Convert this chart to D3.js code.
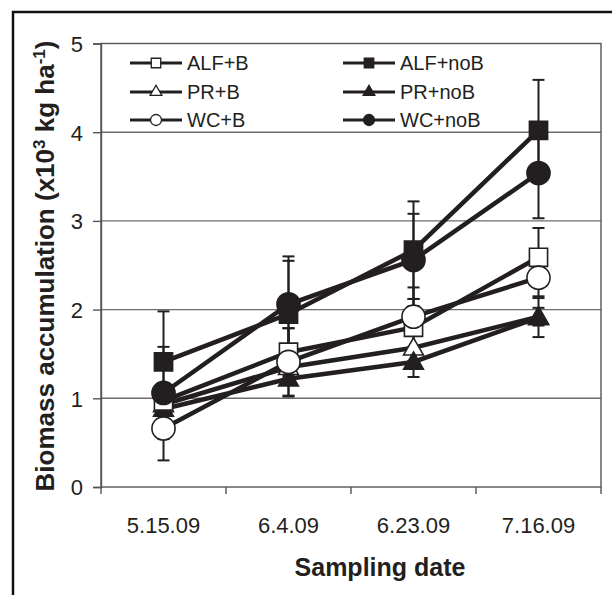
<!DOCTYPE html>
<html>
<head>
<meta charset="utf-8">
<script src="https://cdn.jsdelivr.net/npm/d3@7"></script>
<style>
  body { margin: 0; background: #fff; }
  svg { display: block; font-family: 'Liberation Sans', Arial, sans-serif; }
</style>
</head>
<body>
<div id="chart"></div>
<script>
// sampling dates (categories)
var dates = ['5.15.09', '6.4.09', '6.23.09', '7.16.09']

// series names, in legend order
var seriesNames = ['ALF+B', 'ALF+noB', 'PR+B', 'PR+noB', 'WC+B', 'WC+noB']

// biomass means (x10^3 kg/ha)
var alfB = [0.97, 1.52, 1.80, 2.59]
var alfNoB = [1.41, 1.95, 2.67, 4.02]
var prB = [0.93, 1.35, 1.57, 1.92]
var prNoB = [0.88, 1.22, 1.41, 1.91]
var wcB = [0.66, 1.41, 1.92, 2.36]
var wcNoB = [1.06, 2.06, 2.56, 3.54]

// error bar half widths
var alfBErr = [0.20, 0.27, 0.45, 0.33]
var alfNoBErr = [0.57, 0.60, 0.55, 0.57]
var prBErr = [0.08, 0.15, 0.15, 0.10]
var prNoBErr = [0.06, 0.20, 0.17, 0.22]
var wcBErr = [0.36, 0.38, 0.20, 0.21]
var wcNoBErr = [0.52, 0.54, 0.52, 0.51]

var yTicks = [0, 1, 2, 3, 4, 5]

var values = [alfB, alfNoB, prB, prNoB, wcB, wcNoB]
var errors = [alfBErr, alfNoBErr, prBErr, prNoBErr, wcBErr, wcNoBErr]

var width = 612
var height = 595
var ink = '#231f20'

// shape + fill for each series
var shapes = [d3.symbolSquare, d3.symbolSquare, d3.symbolTriangle, d3.symbolTriangle, d3.symbolCircle, d3.symbolCircle]
var fills = ['#fff', ink, '#fff', ink, '#fff', ink]
var bigSize = { square: 330, triangle: 170, circle: 420 }
var smallSize = { square: 90, triangle: 60, circle: 95 }
function sizeKey(s) {
  return s === d3.symbolSquare ? 'square' : s === d3.symbolTriangle ? 'triangle' : 'circle'
}

var series = seriesNames.map(function (name, i) {
  return {
    name: name,
    shape: shapes[i],
    fill: fills[i],
    points: dates.map(function (d, j) {
      return { date: d, value: values[i][j], err: errors[i][j] }
    })
  }
})

var svg = d3.select('#chart').append('svg')
  .attr('width', width)
  .attr('height', height)

// outer frame (runs off the right/bottom edge like in the source)
svg.append('rect')
  .attr('x', 13).attr('y', 12)
  .attr('width', 640).attr('height', 640)
  .attr('fill', 'none')
  .attr('stroke', '#111')
  .attr('stroke-width', 2.5)

var plotL = 101, plotR = 601, plotT = 43.5, plotB = 487

var x = d3.scaleBand().domain(dates).range([plotL, plotR]).padding(0)
var y = d3.scaleLinear().domain([0, 5]).range([plotB, plotT])

// grid lines
svg.append('g')
  .selectAll('line')
  .data(yTicks.slice(1, 5))
  .join('line')
  .attr('x1', plotL).attr('x2', plotR)
  .attr('y1', function (d) { return y(d) })
  .attr('y2', function (d) { return y(d) })
  .attr('stroke', '#6d6d6d')
  .attr('stroke-width', 1.4)

// plot frame
svg.append('rect')
  .attr('x', plotL).attr('y', plotT)
  .attr('width', plotR - plotL).attr('height', plotB - plotT)
  .attr('fill', 'none')
  .attr('stroke', '#555')
  .attr('stroke-width', 1.4)

// y axis
var yAxis = svg.append('g')
  .attr('transform', 'translate(' + plotL + ',0)')
  .call(d3.axisLeft(y).tickValues(yTicks).tickSize(8).tickPadding(10).tickFormat(d3.format('d')))
yAxis.select('.domain').attr('stroke', '#555').attr('stroke-width', 1.4)
yAxis.selectAll('.tick line').attr('stroke', '#555').attr('stroke-width', 1.4)
yAxis.selectAll('text').attr('font-size', 22).attr('fill', ink).attr('dy', '0.36em')

// x axis labels
var xAxis = svg.append('g')
  .attr('transform', 'translate(0,' + plotB + ')')
  .call(d3.axisBottom(x).tickSize(0).tickPadding(30))
xAxis.select('.domain').remove()
xAxis.selectAll('text').attr('font-size', 22).attr('fill', ink)

// x ticks on band edges
svg.append('g')
  .selectAll('line')
  .data(dates.map(function (d) { return x(d) }).concat([plotR]))
  .join('line')
  .attr('x1', function (d) { return d }).attr('x2', function (d) { return d })
  .attr('y1', plotB).attr('y2', plotB + 7)
  .attr('stroke', '#555')
  .attr('stroke-width', 1.4)

// axis titles
svg.append('text')
  .attr('transform', 'translate(54,266) rotate(-90)')
  .attr('text-anchor', 'middle')
  .attr('font-size', 26)
  .attr('font-weight', 'bold')
  .attr('fill', ink)
  .call(function (t) {
    t.append('tspan').text('Biomass accumulation (x10')
    t.append('tspan').attr('font-size', 17).attr('dy', -9).text('3')
    t.append('tspan').attr('dy', 9).text(' kg ha')
    t.append('tspan').attr('font-size', 17).attr('dy', -9).text('-1')
    t.append('tspan').attr('dy', 9).text(')')
  })

svg.append('text')
  .attr('x', 380).attr('y', 576)
  .attr('text-anchor', 'middle')
  .attr('font-size', 25)
  .attr('font-weight', 'bold')
  .attr('fill', ink)
  .text('Sampling date')

var cx = function (d) { return x(d.date) + x.bandwidth() / 2 }

// error bars
var eb = svg.append('g')
series.forEach(function (s) {
  s.points.forEach(function (p) {
    var g = eb.append('g').attr('stroke', ink).attr('stroke-width', 2)
    g.append('line')
      .attr('x1', cx(p)).attr('x2', cx(p))
      .attr('y1', y(p.value - p.err)).attr('y2', y(p.value + p.err))
    ;[p.value - p.err, p.value + p.err].forEach(function (v) {
      g.append('line')
        .attr('x1', cx(p) - 6).attr('x2', cx(p) + 6)
        .attr('y1', y(v)).attr('y2', y(v))
    })
  })
})

// lines
var line = d3.line().x(cx).y(function (d) { return y(d.value) })
svg.append('g')
  .selectAll('path')
  .data(series)
  .join('path')
  .attr('d', function (s) { return line(s.points) })
  .attr('fill', 'none')
  .attr('stroke', ink)
  .attr('stroke-width', 4.5)

// markers, drawn in an order that matches the overlaps in the figure
var drawOrder = [2, 3, 0, 1, 5, 4]
drawOrder.forEach(function (i) {
  var s = series[i]
  svg.append('g')
    .selectAll('path')
    .data(s.points)
    .join('path')
    .attr('transform', function (d) {
      var dy = s.shape === d3.symbolTriangle ? 1.5 : 0
      return 'translate(' + cx(d) + ',' + (y(d.value) + dy) + ')'
    })
    .attr('d', d3.symbol().type(s.shape).size(bigSize[sizeKey(s.shape)]))
    .attr('fill', s.fill)
    .attr('stroke', ink)
    .attr('stroke-width', 1.6)
})

// legend
var legendX = [130, 343]
var legendY = [63, 92, 120]
var legend = svg.append('g')
  .selectAll('g')
  .data(series)
  .join('g')
  .attr('transform', function (d, i) {
    return 'translate(' + legendX[i % 2] + ',' + legendY[Math.floor(i / 2)] + ')'
  })
legend.append('line')
  .attr('x1', 0).attr('x2', 52)
  .attr('stroke', ink)
  .attr('stroke-width', 3)
legend.append('path')
  .attr('transform', 'translate(26,0)')
  .attr('d', function (d) { return d3.symbol().type(d.shape).size(smallSize[sizeKey(d.shape)])() })
  .attr('fill', function (d) { return d.fill })
  .attr('stroke', ink)
  .attr('stroke-width', 1.3)
legend.append('text')
  .attr('x', 57).attr('y', 7)
  .attr('font-size', 20)
  .attr('fill', ink)
  .text(function (d) { return d.name })
</script>
</body>
</html>
